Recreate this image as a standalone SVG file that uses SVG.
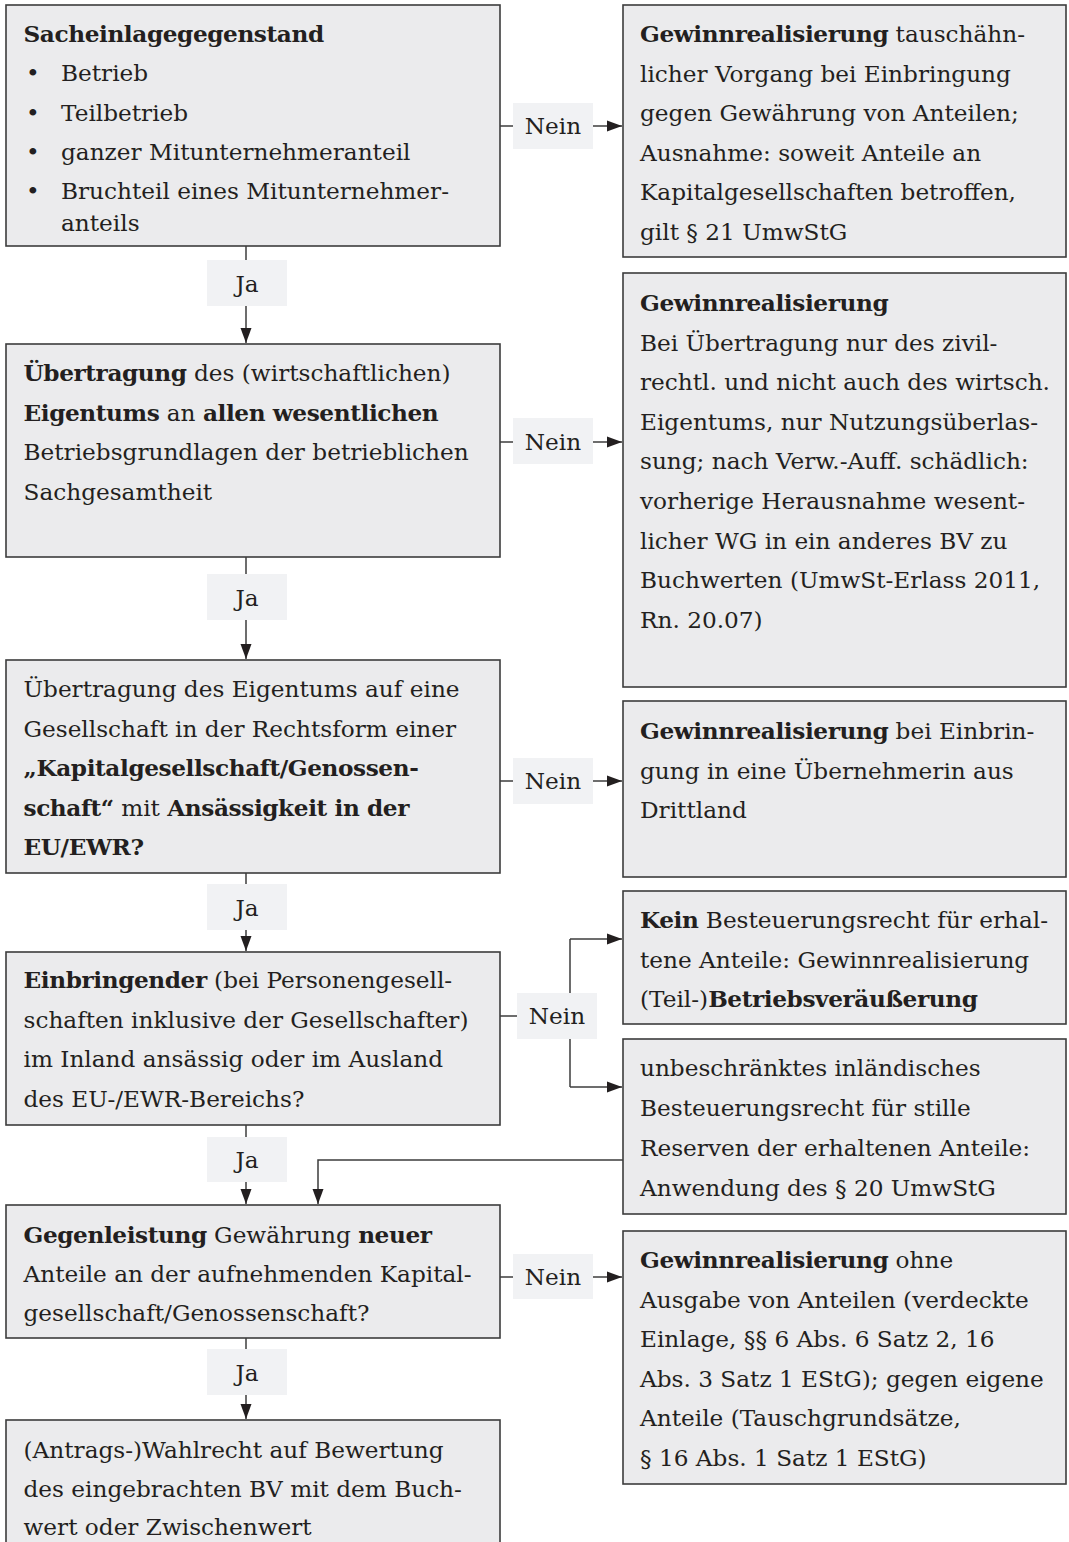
<svg xmlns="http://www.w3.org/2000/svg" width="1069" height="1542" viewBox="0 0 1069 1542">
<defs>
<style>
text{font-family:"DejaVu Serif","Liberation Serif",serif;font-size:23.2px;fill:#231f20}
.b{font-weight:bold;letter-spacing:-0.4px}
.box{fill:#ebebed;stroke:#3c3c3c;stroke-width:1.6}
.lbl{fill:#f1f2f4;stroke:none}
.c{fill:none;stroke:#3c3c3c;stroke-width:1.5}
.m{text-anchor:middle}
</style>
<marker id="ah" markerUnits="userSpaceOnUse" markerWidth="16" markerHeight="12" refX="15" refY="6" orient="auto">
<path d="M0,0.5 L15,6 L0,11.5 Z" fill="#231f20"/>
</marker>
</defs>
<rect width="1069" height="1542" fill="#ffffff"/>

<g id="connectors">
<path class="c" d="M246,246 V343" marker-end="url(#ah)"/>
<path class="c" d="M246,557 V659" marker-end="url(#ah)"/>
<path class="c" d="M246,873 V951" marker-end="url(#ah)"/>
<path class="c" d="M246,1125 V1204" marker-end="url(#ah)"/>
<path class="c" d="M246,1338 V1419" marker-end="url(#ah)"/>
<path class="c" d="M500,126 H622" marker-end="url(#ah)"/>
<path class="c" d="M500,442 H622" marker-end="url(#ah)"/>
<path class="c" d="M500,781 H622" marker-end="url(#ah)"/>
<path class="c" d="M500,1016 H570"/>
<path class="c" d="M570,939 V1087"/>
<path class="c" d="M570,939 H622" marker-end="url(#ah)"/>
<path class="c" d="M570,1087 H622" marker-end="url(#ah)"/>
<path class="c" d="M500,1277 H622" marker-end="url(#ah)"/>
<path class="c" d="M623,1160 H318 V1204" marker-end="url(#ah)"/>
</g>

<g id="labels">
<g id="ja1"><rect class="lbl" x="207" y="260" width="80" height="46"/><text class="m" x="247" y="292">Ja</text></g>
<g id="ja2"><rect class="lbl" x="207" y="574" width="80" height="46"/><text class="m" x="247" y="606">Ja</text></g>
<g id="ja3"><rect class="lbl" x="207" y="884" width="80" height="46"/><text class="m" x="247" y="916">Ja</text></g>
<g id="ja4"><rect class="lbl" x="207" y="1137" width="80" height="45"/><text class="m" x="247" y="1168">Ja</text></g>
<g id="ja5"><rect class="lbl" x="207" y="1349" width="80" height="46"/><text class="m" x="247" y="1381">Ja</text></g>
<g id="nein1"><rect class="lbl" x="513" y="103" width="80" height="46"/><text class="m" x="553" y="134">Nein</text></g>
<g id="nein2"><rect class="lbl" x="513" y="418" width="80" height="46"/><text class="m" x="553" y="450">Nein</text></g>
<g id="nein3"><rect class="lbl" x="513" y="758" width="80" height="46"/><text class="m" x="553" y="789">Nein</text></g>
<g id="nein4"><rect class="lbl" x="517" y="993" width="80" height="46"/><text class="m" x="557" y="1024">Nein</text></g>
<g id="nein5"><rect class="lbl" x="513" y="1254" width="80" height="45"/><text class="m" x="553" y="1285">Nein</text></g>
</g>

<g id="node-sacheinlage">
<rect class="box" x="6" y="5" width="494" height="241"/>
<text x="23.5" y="42" class="b">Sacheinlagegegenstand</text>
<text x="26" y="81">•</text><text x="61" y="81">Betrieb</text>
<text x="26" y="121">•</text><text x="61" y="121">Teilbetrieb</text>
<text x="26" y="160">•</text><text x="61" y="160">ganzer Mitunternehmeranteil</text>
<text x="26" y="199">•</text><text x="61" y="199">Bruchteil eines Mitunternehmer-</text>
<text x="61" y="231">anteils</text>
</g>

<g id="node-gewinn1">
<rect class="box" x="623" y="5" width="443" height="252"/>
<text x="640" y="42"><tspan class="b">Gewinnrealisierung</tspan> tauschähn-</text>
<text x="640" y="81.5">licher Vorgang bei Einbringung</text>
<text x="640" y="121">gegen Gewährung von Anteilen;</text>
<text x="640" y="160.5">Ausnahme: soweit Anteile an</text>
<text x="640" y="200">Kapitalgesellschaften betroffen,</text>
<text x="640" y="239.5">gilt § 21 UmwStG</text>
</g>

<g id="node-uebertragung">
<rect class="box" x="6" y="344" width="494" height="213"/>
<text x="23.5" y="381"><tspan class="b">Übertragung</tspan> des (wirtschaftlichen)</text>
<text x="23.5" y="420.5"><tspan class="b">Eigentums</tspan> an <tspan class="b">allen wesentlichen</tspan></text>
<text x="23.5" y="460">Betriebsgrundlagen der betrieblichen</text>
<text x="23.5" y="499.5">Sachgesamtheit</text>
</g>

<g id="node-gewinn2">
<rect class="box" x="623" y="273" width="443" height="414"/>
<text x="640" y="311" class="b">Gewinnrealisierung</text>
<text x="640" y="350.6">Bei Übertragung nur des zivil-</text>
<text x="640" y="390.2">rechtl. und nicht auch des wirtsch.</text>
<text x="640" y="429.8">Eigentums, nur Nutzungsüberlas-</text>
<text x="640" y="469.4">sung; nach Verw.-Auff. schädlich:</text>
<text x="640" y="509">vorherige Herausnahme wesent-</text>
<text x="640" y="548.6">licher WG in ein anderes BV zu</text>
<text x="640" y="588.2">Buchwerten (UmwSt-Erlass 2011,</text>
<text x="640" y="627.8">Rn. 20.07)</text>
</g>

<g id="node-rechtsform">
<rect class="box" x="6" y="660" width="494" height="213"/>
<text x="23.5" y="697">Übertragung des Eigentums auf eine</text>
<text x="23.5" y="736.5">Gesellschaft in der Rechtsform einer</text>
<text x="23.5" y="776" class="b">„Kapitalgesellschaft/Genossen-</text>
<text x="23.5" y="815.5"><tspan class="b">schaft“</tspan> mit <tspan class="b">Ansässigkeit in der</tspan></text>
<text x="23.5" y="855" class="b">EU/EWR?</text>
</g>

<g id="node-gewinn3">
<rect class="box" x="623" y="701" width="443" height="176"/>
<text x="640" y="739"><tspan class="b">Gewinnrealisierung</tspan> bei Einbrin-</text>
<text x="640" y="778.5">gung in eine Übernehmerin aus</text>
<text x="640" y="818">Drittland</text>
</g>

<g id="node-einbringender">
<rect class="box" x="6" y="952" width="494" height="173"/>
<text x="23.5" y="988"><tspan class="b">Einbringender</tspan> (bei Personengesell-</text>
<text x="23.5" y="1027.5">schaften inklusive der Gesellschafter)</text>
<text x="23.5" y="1067">im Inland ansässig oder im Ausland</text>
<text x="23.5" y="1106.5">des EU-/EWR-Bereichs?</text>
</g>

<g id="node-kein">
<rect class="box" x="623" y="891" width="443" height="133"/>
<text x="640" y="928"><tspan class="b">Kein</tspan> Besteuerungsrecht für erhal-</text>
<text x="640" y="967.5">tene Anteile: Gewinnrealisierung</text>
<text x="640" y="1007">(Teil-)<tspan class="b">Betriebsveräußerung</tspan></text>
</g>

<g id="node-unbeschraenkt">
<rect class="box" x="623" y="1039" width="443" height="175"/>
<text x="640" y="1076">unbeschränktes inländisches</text>
<text x="640" y="1116">Besteuerungsrecht für stille</text>
<text x="640" y="1156">Reserven der erhaltenen Anteile:</text>
<text x="640" y="1196">Anwendung des § 20 UmwStG</text>
</g>

<g id="node-gegenleistung">
<rect class="box" x="6" y="1205" width="494" height="133"/>
<text x="23.5" y="1243"><tspan class="b">Gegenleistung</tspan> Gewährung <tspan class="b">neuer</tspan></text>
<text x="23.5" y="1282">Anteile an der aufnehmenden Kapital-</text>
<text x="23.5" y="1321">gesellschaft/Genossenschaft?</text>
</g>

<g id="node-gewinn4">
<rect class="box" x="623" y="1231" width="443" height="253"/>
<text x="640" y="1268"><tspan class="b">Gewinnrealisierung</tspan> ohne</text>
<text x="640" y="1307.5">Ausgabe von Anteilen (verdeckte</text>
<text x="640" y="1347">Einlage, §§ 6 Abs. 6 Satz 2, 16</text>
<text x="640" y="1386.5">Abs. 3 Satz 1 EStG); gegen eigene</text>
<text x="640" y="1426">Anteile (Tauschgrundsätze,</text>
<text x="640" y="1465.5">§ 16 Abs. 1 Satz 1 EStG)</text>
</g>

<g id="node-wahlrecht">
<rect class="box" x="6" y="1420" width="494" height="140"/>
<text x="23.5" y="1458">(Antrags-)Wahlrecht auf Bewertung</text>
<text x="23.5" y="1496.5">des eingebrachten BV mit dem Buch-</text>
<text x="23.5" y="1535">wert oder Zwischenwert</text>
</g>
</svg>
